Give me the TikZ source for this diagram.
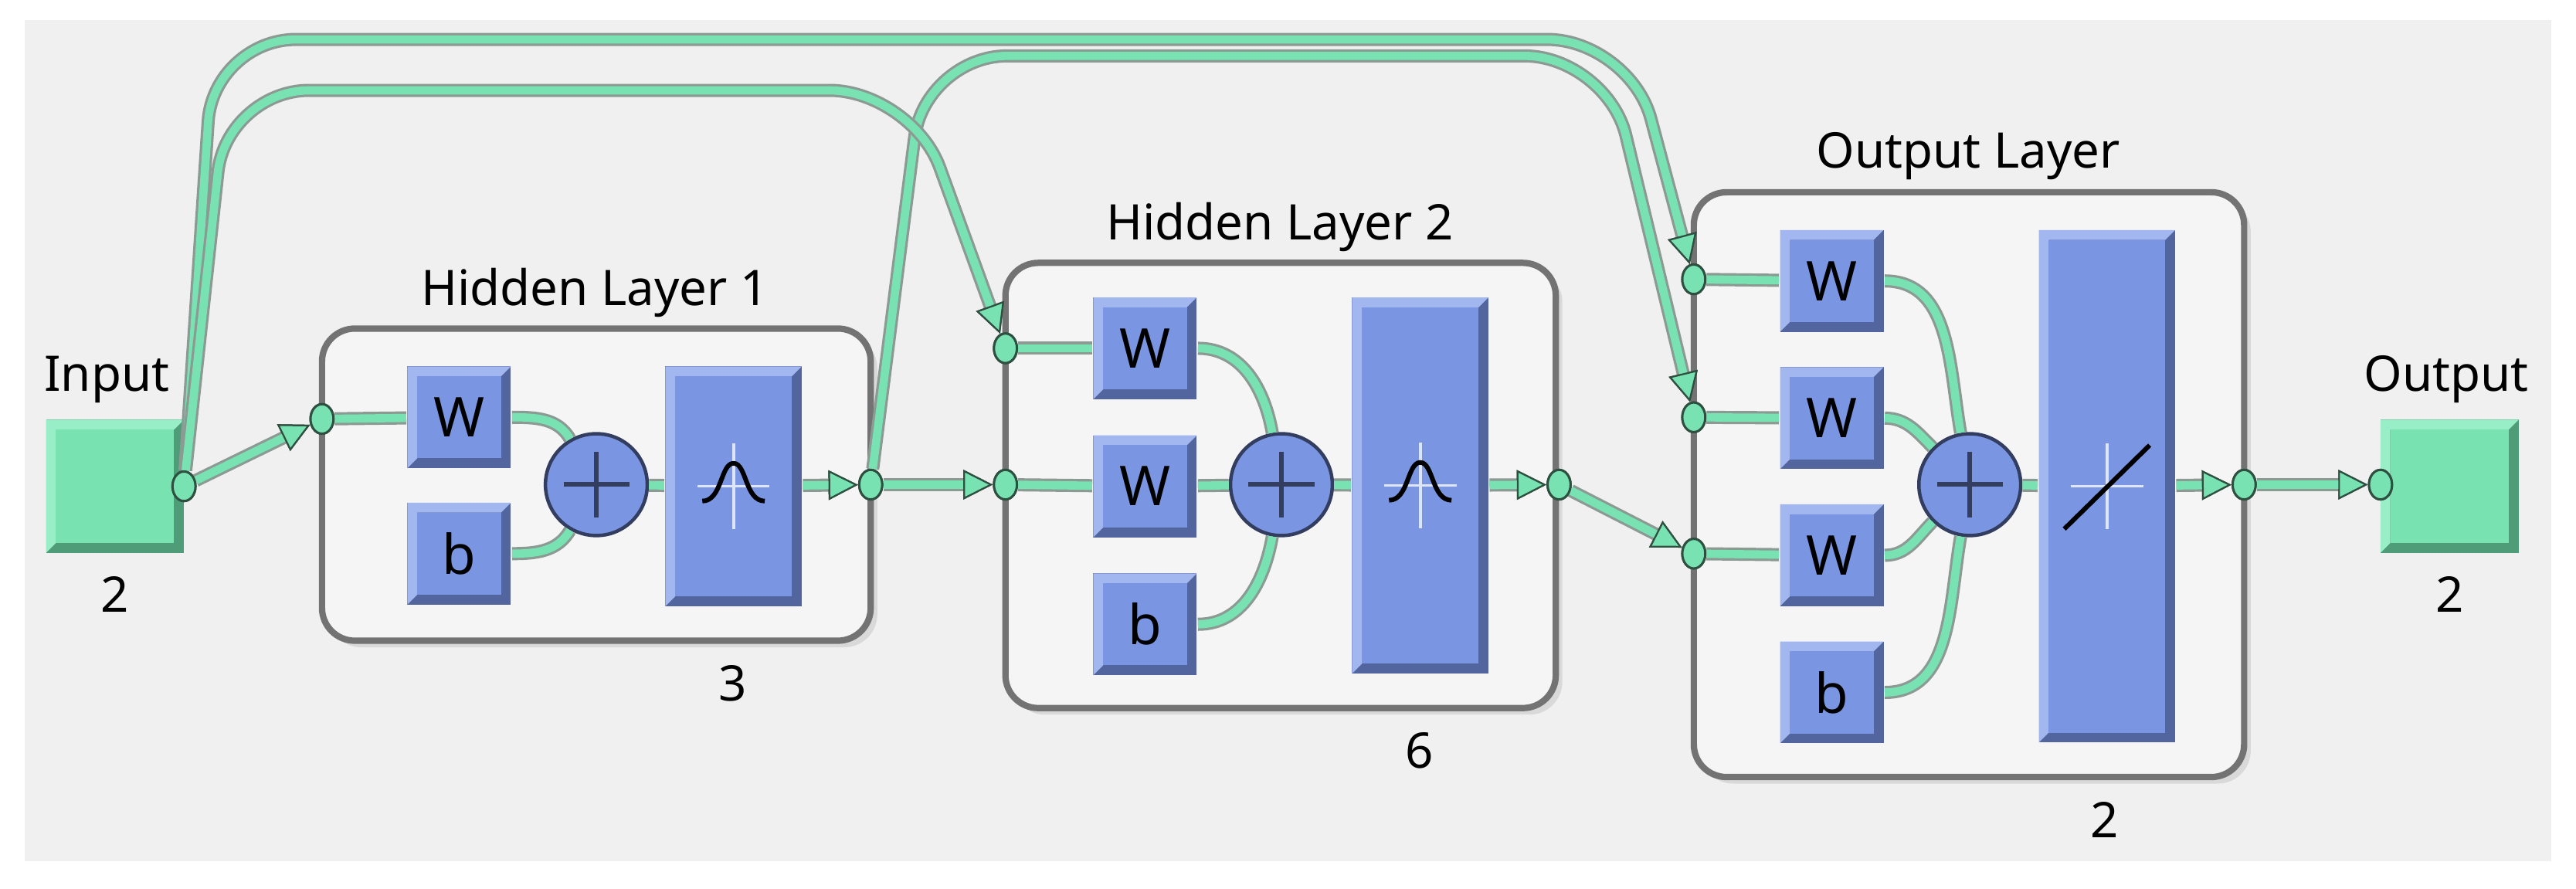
\documentclass[tikz,border=0pt]{standalone}
\usepackage{fontspec}
\setmainfont{Noto Sans}
\usetikzlibrary{shapes.geometric,arrows.meta}
\definecolor{wirecol}{HTML}{78E2B2}
\definecolor{wireedge}{HTML}{8C9A94}
\definecolor{ringedge}{HTML}{2F4F40}
\definecolor{blkmain}{HTML}{7A96E2}
\definecolor{blklight}{HTML}{A2B6F0}
\definecolor{blkdark}{HTML}{53659F}
\definecolor{grnmain}{HTML}{78E3B0}
\definecolor{grnlight}{HTML}{98EEC6}
\definecolor{grndark}{HTML}{4E9C78}
\definecolor{panel}{HTML}{F0F0F0}
\definecolor{layerfill}{HTML}{F5F5F5}
\tikzset{
  bevel/.style 2 args={rectangle, inner sep=0pt, fill=#2, font=\fontsize{9.5}{11}\bfseries,
    path picture={
      \fill[#1] (path picture bounding box.north west) -- (path picture bounding box.north east)
        -- ([shift={(-0.6mm,-0.6mm)}]path picture bounding box.north east)
        -- ([shift={(0.6mm,-0.6mm)}]path picture bounding box.north west)
        -- ([shift={(0.6mm,0.6mm)}]path picture bounding box.south west)
        -- (path picture bounding box.south west) -- cycle;
      \fill[\tikzbevelmain] ([shift={(0.6mm,-0.6mm)}]path picture bounding box.north west)
        rectangle ([shift={(-0.6mm,0.6mm)}]path picture bounding box.south east);
    }},
  blk/.style={bevel={blklight}{blkdark}, minimum width=6.3mm, minimum height=6.2mm,
    /utils/exec=\def\tikzbevelmain{blkmain}},
  tf/.style={blk, minimum width=8.3mm, minimum height=#1},
  term/.style={bevel={grnlight}{grndark}, minimum width=8.4mm, minimum height=8.1mm,
    /utils/exec=\def\tikzbevelmain{grnmain}},
  ring/.style={ellipse, draw=ringedge, fill=wirecol, line width=0.4pt,
    minimum width=1.4mm, minimum height=1.8mm, inner sep=0pt},
  sum/.style={circle, draw=blkdark!60!black, line width=0.6pt, fill=blkmain,
    minimum size=6.2mm, inner sep=0pt,
    path picture={\draw[line width=0.8pt] ([xshift=-2mm]path picture bounding box.center) -- ++(4mm,0)
      ([yshift=-2mm]path picture bounding box.center) -- ++(0,4mm);}},
  layer/.style={draw=black!55, line width=1.1pt, fill=layerfill, rounded corners=2mm},
  shade/.style={fill=black!15, rounded corners=2mm},
  wire/.style={line width=0.5mm, draw=wirecol, preaction={draw=wireedge, line width=0.8mm}},
  tip/.style={-{Triangle[length=1.8mm,width=1.8mm,fill=wirecol,color=ringedge,line width=0.3pt]}},
  lbl/.style={font=\fontsize{8.5}{10}\bfseries},
}
\begin{document}
\begin{tikzpicture}[x=0.1mm,y=-0.1mm]
\useasboundingbox (0,0) rectangle (1568,541);
\fill[panel] (15,12) rectangle (1553,524);
% layer frames
\fill[shade] (200,204) rectangle (534,394);
\draw[layer] (196,200) rectangle (530,390);
\fill[shade] (616,164) rectangle (951,435);
\draw[layer] (612,160) rectangle (947,431);
\fill[shade] (1035,121) rectangle (1370,477);
\draw[layer] (1031,117) rectangle (1366,473);
% titles and sizes
\node[lbl] at (65,231) {Input};
\node[lbl] at (70,362) {2};
\node[lbl] at (362,178) {Hidden Layer 1};
\node[lbl] at (446,416) {3};
\node[lbl] at (779,138) {Hidden Layer 2};
\node[lbl] at (864,457) {6};
\node[lbl] at (1198,95) {Output Layer};
\node[lbl] at (1281,499) {2};
\node[lbl] at (1489,231) {Output};
\node[lbl] at (1491,362) {2};
%%%%%%%%%%%%%%%% input
\node[term] (inbox) at (70,296) {};
%%%%%%%%%%%%%%%% hidden layer 1
\node[blk] (W1) at (279.5,254) {W};
\node[blk] (b1) at (279.5,337) {b};
\node[sum] (sum1) at (363,295) {};
\node[tf=14.6mm] (tf1) at (446.5,296) {};
%%%%%%%%%%%%%%%% hidden layer 2
\node[blk] (W2a) at (697,212) {W};
\node[blk] (W2b) at (697,296) {W};
\node[blk] (b2) at (697,380) {b};
\node[sum] (sum2) at (780,295) {};
\node[tf=22.9mm] (tf2) at (864.5,295.5) {};
%%%%%%%%%%%%%%%% output layer
\node[blk] (W3a) at (1115,171) {W};
\node[blk] (W3b) at (1115,254.5) {W};
\node[blk] (W3c) at (1115,338) {W};
\node[blk] (b3) at (1115,421.5) {b};
\node[sum] (sum3) at (1199,295) {};
\node[tf=31.2mm] (tf3) at (1282.5,296) {};
%%%%%%%%%%%%%%%% output
\node[term] (outbox) at (1491,296) {};
% transfer glyphs
\foreach \c in {tf1,tf2,tf3}
  \draw[white!75!blkmain, line width=0.5pt] ([xshift=-2.2mm]\c.center) -- ++(4.4mm,0)
    ([yshift=-2.6mm]\c.center) -- ++(0,5.2mm);
\foreach \c in {tf1,tf2}
  \draw[line width=0.8pt] ([shift={(-1.9mm,-0.9mm)}]\c.center) .. controls ([shift={(-0.7mm,-0.9mm)}]\c.center) and ([shift={(-0.8mm,1.4mm)}]\c.center) .. ([shift={(0,1.4mm)}]\c.center)
    .. controls ([shift={(0.8mm,1.4mm)}]\c.center) and ([shift={(0.7mm,-0.9mm)}]\c.center) .. ([shift={(1.9mm,-0.9mm)}]\c.center);
\draw[line width=0.8pt] ([shift={(-2.6mm,-2.6mm)}]tf3.center) -- ([shift={(2.6mm,2.5mm)}]tf3.center);
% ports
\node[ring] (in0) at (112,296) {};
\node[ring] (c1in) at (196,255) {};
\node[ring] (c1out) at (530,295) {};
\node[ring] (c2a) at (612,212) {};
\node[ring] (c2b) at (612,295) {};
\node[ring] (c2out) at (949,295) {};
\node[ring] (c3a) at (1031,170) {};
\node[ring] (c3b) at (1031,254) {};
\node[ring] (c3c) at (1031,337) {};
\node[ring] (c3out) at (1366,295) {};
\node[ring] (c4) at (1449,295) {};
% wires
\draw[wire,tip,rounded corners=5mm] (in0) -- (130,24) -- (992,24) -- (c3a);
\draw[wire,tip,rounded corners=5mm] (c1out) -- (563,34) -- (978,34) -- (c3b);
\draw[wire,tip,rounded corners=5mm] (in0) -- (138,55) -- (555,55) -- (c2a);
\draw[wire,tip] (in0) -- (c1in);
\draw[wire,tip] (c1out) -- (c2b);
\draw[wire,tip] (c2out) -- (c3c);
\draw[wire,tip] (c3out) -- (c4);
% layer 1 inside
\draw[wire] (c1in) -- (W1);
\draw[wire] (W1.east) to[out=0,in=120] (sum1);
\draw[wire] (b1.east) to[out=0,in=-120] (sum1);
\draw[wire] (sum1) -- (tf1);
\draw[wire,tip] (tf1) -- (c1out);
% layer 2 inside
\draw[wire] (c2a) -- (W2a);
\draw[wire] (c2b) -- (W2b);
\draw[wire] (W2a.east) to[out=0,in=100] (sum2);
\draw[wire] (W2b) -- (sum2);
\draw[wire] (b2.east) to[out=0,in=-100] (sum2);
\draw[wire] (sum2) -- (tf2);
\draw[wire,tip] (tf2) -- (c2out);
% output layer inside
\draw[wire] (c3a) -- (W3a);
\draw[wire] (c3b) -- (W3b);
\draw[wire] (c3c) -- (W3c);
\draw[wire] (W3a.east) to[out=0,in=100] (sum3);
\draw[wire] (W3b.east) to[out=0,in=135] (sum3);
\draw[wire] (W3c.east) to[out=0,in=-135] (sum3);
\draw[wire] (b3.east) to[out=0,in=-100] (sum3);
\draw[wire] (sum3) -- (tf3);
\draw[wire,tip] (tf3) -- (c3out);
% redraw ports on top
\foreach \p in {in0,c1in,c1out,c2a,c2b,c2out,c3a,c3b,c3c,c3out,c4}
  \node[ring] at (\p) {};
\end{tikzpicture}
\end{document}
